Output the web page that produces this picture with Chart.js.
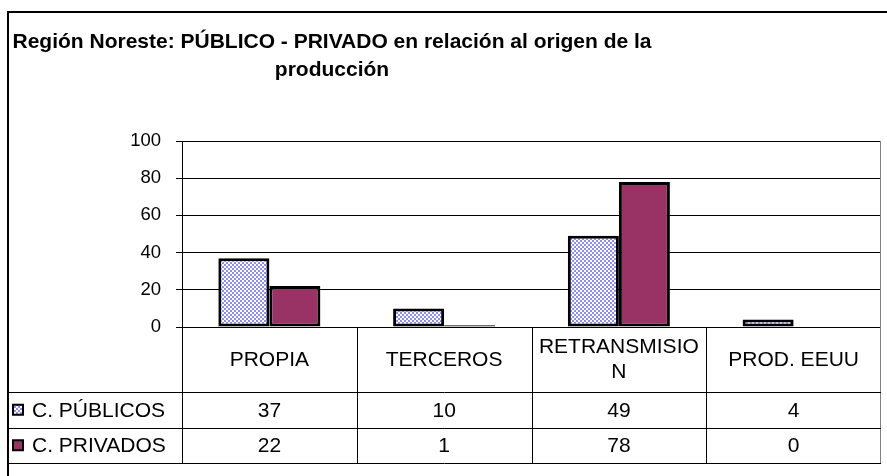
<!DOCTYPE html>
<html>
<head>
<meta charset="utf-8">
<script src="https://cdn.jsdelivr.net/npm/chart.js@4.4.0/dist/chart.umd.min.js"></script>
<style>
  html, body { margin: 0; padding: 0; background: #fff; }
  #wrap { width: 887px; height: 476px; position: relative; }
</style>
</head>
<body>
<div id="wrap"><canvas id="chart" width="887" height="476"></canvas></div>
<script>
// Chart data
const titleLines = ['Región Noreste: PÚBLICO - PRIVADO en relación al origen de la', 'producción'];
const categories = ['PROPIA', 'TERCEROS', ['RETRANSMISIO', 'N'], 'PROD. EEUU'];
const seriesNames = ['C. PÚBLICOS', 'C. PRIVADOS'];
const publicos = [37, 10, 49, 4];
const privados = [22, 1, 78, 0];
const yMin = 0;
const yMax = 100;
const yStep = 20;

const FONT = '"Liberation Sans", Arial, sans-serif';

// Blue / white checker fill used by Excel for the first series
const makeChecker = () => {
    const c = document.createElement('canvas');
    c.width = 4;
    c.height = 4;
    const g = c.getContext('2d');
    g.fillStyle = '#ffffff';
    g.fillRect(0, 0, 4, 4);
    g.fillStyle = '#8c8cff';
    g.fillRect(0, 0, 2, 2);
    g.fillRect(2, 2, 2, 2);
    return document.getElementById('chart').getContext('2d').createPattern(c, 'repeat');
};

const checker = makeChecker();
const fills = [checker, '#993366'];

// Title, data table and outer frame
const tablePlugin = {
    id: 'dataTable',
    afterDraw(chart) {
        const ctx = chart.ctx;
        const area = chart.chartArea;
        const xs = chart.scales.x;
        const headerBottom = 392;
        const rowH = 35.5;
        const tableBottom = headerBottom + rowH * 2;
        const frameLeft = 8;

        ctx.save();

        // title
        ctx.fillStyle = '#000';
        ctx.font = 'bold 21px ' + FONT;
        ctx.textAlign = 'center';
        ctx.textBaseline = 'alphabetic';
        ctx.fillText(titleLines[0], 332, 48);
        ctx.fillText(titleLines[1], 332, 76);

        // outer frame (cut off at right and bottom in the reference)
        ctx.strokeStyle = '#000';
        ctx.lineWidth = 2;
        ctx.beginPath();
        ctx.moveTo(frameLeft, 476);
        ctx.lineTo(frameLeft, 12);
        ctx.lineTo(887, 12);
        ctx.stroke();

        // plot area right edge
        ctx.lineWidth = 1;
        ctx.strokeStyle = '#808080';
        ctx.beginPath();
        ctx.moveTo(Math.round(area.right) - 0.5, area.top);
        ctx.lineTo(Math.round(area.right) - 0.5, tableBottom);
        ctx.stroke();

        // table grid
        ctx.strokeStyle = '#000';
        const n = chart.data.labels.length;
        const bounds = [];
        for (let i = 0; i <= n; i++) {
            bounds.push(area.left + (area.right - area.left) * i / n);
        }
        ctx.beginPath();
        for (let i = 0; i < n; i++) {
            const x = Math.round(bounds[i]) + 0.5;
            ctx.moveTo(x, area.bottom);
            ctx.lineTo(x, tableBottom);
        }
        [headerBottom, headerBottom + rowH, tableBottom].forEach((y) => {
            const yy = Math.round(y) + 0.5;
            ctx.moveTo(frameLeft, yy);
            ctx.lineTo(area.right, yy);
        });
        ctx.stroke();

        // category labels
        ctx.font = '21px ' + FONT;
        ctx.textAlign = 'center';
        ctx.textBaseline = 'middle';
        const headerMid = (area.bottom + headerBottom) / 2 + 0.5;
        chart.data.labels.forEach((label, i) => {
            const cx = xs.getPixelForValue(i);
            const lines = Array.isArray(label) ? label : [label];
            const lh = 25;
            lines.forEach((line, k) => {
                const y = headerMid + (k - (lines.length - 1) / 2) * lh;
                ctx.fillText(line, cx, y);
            });
        });

        // rows: legend key, name and values
        chart.data.datasets.forEach((ds, r) => {
            const yMid = headerBottom + rowH * r + rowH / 2;
            ctx.fillStyle = ds.backgroundColor;
            ctx.fillRect(13, yMid - 5, 10, 10);
            ctx.strokeStyle = '#000';
            ctx.lineWidth = 2;
            ctx.strokeRect(13, yMid - 5, 10, 10);

            ctx.fillStyle = '#000';
            ctx.textAlign = 'left';
            ctx.fillText(ds.label, 32, yMid + 1);

            ctx.textAlign = 'center';
            ds.data.forEach((v, i) => {
                ctx.fillText(String(v), xs.getPixelForValue(i), yMid + 1);
            });
        });

        ctx.restore();
    }
};

const chart = new Chart(document.getElementById('chart'), {
    type: 'bar',
    data: {
        labels: categories,
        datasets: [
            {
                label: seriesNames[0],
                data: publicos,
                backgroundColor: fills[0],
                borderColor: '#000',
                borderWidth: 3,
                borderSkipped: false,
            },
            {
                label: seriesNames[1],
                data: privados,
                backgroundColor: fills[1],
                borderColor: '#000',
                borderWidth: 3,
                borderSkipped: false,
            },
        ],
    },
    options: {
        responsive: false,
        devicePixelRatio: 1,
        animation: false,
        categoryPercentage: 0.584,
        barPercentage: 1.0,
        layout: { padding: { top: 141, right: 6, bottom: 0, left: 0 } },
        plugins: {
            legend: { display: false },
            title: { display: false },
            tooltip: { enabled: false },
        },
        scales: {
            x: {
                ticks: { display: false },
                grid: { display: false },
                border: { display: false },
                afterFit: (s) => { s.height = 149; },
            },
            y: {
                min: yMin,
                max: yMax,
                ticks: {
                    stepSize: yStep,
                    color: '#000',
                    padding: 15,
                    font: { family: FONT, size: 18.5 },
                },
                grid: {
                    color: '#000',
                    lineWidth: 1,
                    tickLength: 6,
                    tickColor: '#000',
                },
                border: { color: '#000', width: 1 },
                afterFit: (s) => { s.width = 182; },
            },
        },
    },
    plugins: [tablePlugin],
});
</script>
</body>
</html>
